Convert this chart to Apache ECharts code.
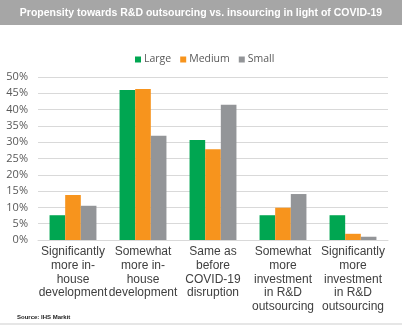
<!DOCTYPE html>
<html>
<head>
<meta charset="utf-8">
<script src="https://cdn.jsdelivr.net/npm/echarts@6/dist/echarts.min.js"></script>
<style>
  html, body { margin: 0; padding: 0; background: #fff; }
  #chart { width: 402px; height: 325px; }
</style>
</head>
<body>
<div id="chart"></div>
<script>
// Survey categories (x axis)
const categories = [
  'Significantly\nmore in-\nhouse\ndevelopment',
  'Somewhat\nmore in-\nhouse\ndevelopment',
  'Same as\nbefore\nCOVID-19\ndisruption',
  'Somewhat\nmore\ninvestment\nin R&D\noutsourcing',
  'Significantly\nmore\ninvestment\nin R&D\noutsourcing'
];

// Share of respondents by company size (%)
const largeValues  = [7.6, 46.0, 30.7, 7.6, 7.6];
const mediumValues = [13.8, 46.3, 27.8, 9.9, 1.9];
const smallValues  = [10.5, 32.0, 41.5, 14.1, 1.0];

const seriesNames = ['Large', 'Medium', 'Small'];
const yTicks = [0, 5, 10, 15, 20, 25, 30, 35, 40, 45, 50];

const titleText = 'Propensity towards R&D outsourcing vs. insourcing in light of COVID-19';
const sourceText = 'Source: IHS Markit';

const colors = ['#00a651', '#f7941d', '#939598'];

const chart = echarts.init(document.getElementById('chart'), null, { renderer: 'canvas' });

const makeSeries = (name, data, color) => ({
  name,
  type: 'bar',
  data,
  barGap: '0%',
  barCategoryGap: '33%',
  itemStyle: { color },
  emphasis: { disabled: true }
});

chart.setOption({
  animation: false,
  color: colors,
  graphic: [
    {
      type: 'rect',
      x: 0, y: 0,
      shape: { width: 402, height: 25 },
      style: { fill: '#a6a6a6' },
      z: 0
    },
    {
      type: 'text',
      x: 201,
      y: 13,
      style: {
        text: titleText,
        fill: '#ffffff',
        align: 'center',
        verticalAlign: 'middle',
        font: 'bold 10.5px "Liberation Sans", Arial, sans-serif'
      },
      z: 1
    },
    {
      type: 'text',
      x: 17,
      y: 317,
      style: {
        text: sourceText,
        fill: '#1a1a1a',
        verticalAlign: 'middle',
        font: 'bold 6px "Liberation Sans", Arial, sans-serif'
      }
    },
    {
      type: 'rect',
      x: 0, y: 323,
      shape: { width: 402, height: 2 },
      style: { fill: '#e6e6e6' }
    }
  ],
  legend: {
    data: seriesNames,
    left: 130,
    top: 49,
    icon: 'rect',
    itemWidth: 6,
    itemHeight: 6,
    itemGap: 9,
    textStyle: {
      color: '#595959',
      fontSize: 10.5,
      fontFamily: '"Open Sans", "Noto Sans", sans-serif',
      padding: [0, 0, 0, -2]
    },
    selectedMode: false
  },
  grid: { left: 38, right: 14, top: 77, bottom: 85 },
  xAxis: {
    type: 'category',
    data: categories,
    axisLine: { lineStyle: { color: '#d9d9d9', width: 1 } },
    axisTick: { show: false },
    axisLabel: {
      interval: 0,
      margin: 5,
      color: '#404040',
      fontSize: 12,
      lineHeight: 13.7,
      fontFamily: '"Liberation Sans", Arial, sans-serif'
    }
  },
  yAxis: {
    type: 'value',
    min: yTicks[0],
    max: yTicks[yTicks.length - 1],
    interval: 5,
    axisLine: { show: false },
    axisTick: { show: false },
    splitLine: { lineStyle: { color: '#d9d9d9', width: 1 } },
    axisLabel: {
      margin: 10,
      color: '#595959',
      fontSize: 11,
      fontFamily: '"Open Sans", "Noto Sans", sans-serif',
      formatter: v => v + '%'
    }
  },
  series: [
    makeSeries(seriesNames[0], largeValues, colors[0]),
    makeSeries(seriesNames[1], mediumValues, colors[1]),
    makeSeries(seriesNames[2], smallValues, colors[2])
  ]
});
</script>
</body>
</html>
